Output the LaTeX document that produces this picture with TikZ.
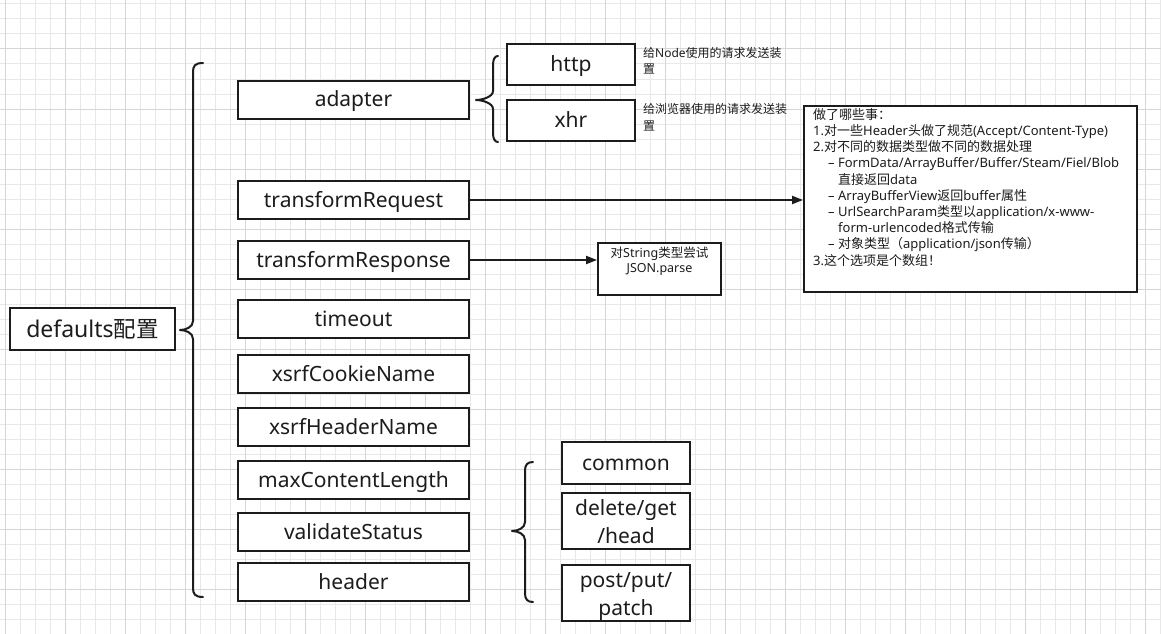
\documentclass[tikz,border=0pt]{standalone}
\usepackage{fontspec}
\setmainfont{Noto Sans}
\newfontfamily\cjk{Noto Sans CJK SC}
\usetikzlibrary{arrows.meta}

\definecolor{ink}{HTML}{1C1C1C}
\definecolor{gridminor}{HTML}{E8E8E8}
\definecolor{gridmajor}{HTML}{D6D6D6}

% two centred lines, the first raised above the second
\newcommand\twolines[3][28pt]{\makebox[0pt]{\raisebox{#1}[0pt][0pt]{#2}}\makebox[0pt]{#3}}
% two left-aligned lines, the first raised above the second
\newcommand\twolinesleft[3][16.5pt]{\makebox[0pt][l]{\raisebox{#1}[0pt][0pt]{#2}}#3}

% curly brace opening to the right: tip x, tip y, stem x, end x, top y, bottom y
\newcommand\drawbrace[6]{%
  \draw[bracepath] ({#4},{#5}) .. controls ({#3+2},{#5}) and ({#3},{#5+3}) .. ({#3},{#5+9})
    -- ({#3},{#2-9}) .. controls ({#3},{#2-3}) and ({#1+6},{#2}) .. ({#1},{#2})
    .. controls ({#1+6},{#2}) and ({#3},{#2+3}) .. ({#3},{#2+9})
    -- ({#3},{#6-9}) .. controls ({#3},{#6-3}) and ({#3+2},{#6}) .. ({#4},{#6});}

\begin{document}
\begin{tikzpicture}[x=1pt,y=-1pt,
  optbox/.style={draw=ink, line width=2pt, fill=white, text=ink, font=\fontsize{21}{28}\selectfont,
    inner sep=0pt, text height=18pt, text depth=4pt},
  twobox/.style={optbox, text height=48pt, text depth=4pt},
  notebox/.style={draw=ink, line width=2pt, fill=white, inner sep=0pt},
  smalltext/.style={text=ink, font=\fontsize{12}{16.5}\selectfont, inner sep=0pt},
  bracepath/.style={draw=ink, line width=2pt, line cap=round, line join=round},
  arr/.style={draw=ink, line width=2pt, -{Triangle[length=11pt,width=8pt]}}]
\useasboundingbox (0,0) rectangle (1161,634);
\fill[white] (0,0) rectangle (1161,634);

% background grid
\foreach \gx in {5,20,...,1160} \draw[gridminor, line width=1pt] (\gx,0) -- (\gx,634);
\foreach \gy in {4,19,...,634} \draw[gridminor, line width=1pt] (0,\gy) -- (1161,\gy);
\foreach \gx in {5,65,...,1160} \draw[gridmajor, line width=1pt] (\gx,0) -- (\gx,634);
\foreach \gy in {49,109,...,634} \draw[gridmajor, line width=1pt] (0,\gy) -- (1161,\gy);

% root
\node[optbox, minimum width=165pt, minimum height=42pt, font=\fontsize{23}{28}\selectfont,
  text height=20pt, text depth=3pt] (root) at (92.5,329) {defaults{\cjk\fontsize{22.5}{28}\selectfont 配置}};
\drawbrace{180}{330}{193}{203}{63}{597}

% option column
\foreach \nm/\cy/\txt in {adapter/99.5/adapter, treq/200/transformRequest, tresp/260/transformResponse,
    timeout/319/timeout, cookie/374/xsrfCookieName, hname/427/xsrfHeaderName,
    maxlen/480/maxContentLength, valid/532/validateStatus, header/582/header}
  \node[optbox, minimum width=231pt, minimum height=38pt] (\nm) at (353.5,\cy) {\txt};

% adapter choices
\drawbrace{476}{100}{493}{498}{56}{142}
\node[optbox, minimum width=128pt, minimum height=41pt] (http) at (571,64.5) {http};
\node[optbox, minimum width=128pt, minimum height=41pt] (xhr) at (571,120.5) {xhr};
\node[smalltext, anchor=base west] (httpnote) at (643,74)
  {\twolinesleft{{\cjk 给}Node{\cjk 使用的请求发送装}}{{\cjk 置}}};
\node[smalltext, anchor=base west] (xhrnote) at (643,130)
  {\twolinesleft{{\cjk 给浏览器使用的请求发送装}}{{\cjk 置}}};

% transformRequest details (node baseline = last line)
\node[notebox, minimum width=333pt, minimum height=186pt] (reqbox) at (970.5,199) {};
\node[anchor=base west, inner sep=0pt, text=ink, align=left,
  font=\fontsize{13}{16.2}\selectfont] (reqtext) at (813,265) {%
{\cjk 做了哪些事：}\\
1.{\cjk 对一些}Header{\cjk 头做了规范}(Accept/Content-Type)\\
2.{\cjk 对不同的数据类型做不同的数据处理}\\
\hspace*{15pt}– FormData/ArrayBuffer/Buffer/Steam/Fiel/Blob\\
\hspace*{25pt}{\cjk 直接返回}data\\
\hspace*{15pt}– ArrayBufferView{\cjk 返回}buffer{\cjk 属性}\\
\hspace*{15pt}– UrlSearchParam{\cjk 类型以}application/x-www-\\
\hspace*{25pt}form-urlencoded{\cjk 格式传输}\\
\hspace*{15pt}– {\cjk 对象类型（}application/json{\cjk 传输）}\\
3.{\cjk 这个选项是个数组！}};
\draw[arr] (treq.east) -- (treq.east -| reqbox.west);

% transformResponse details
\node[notebox, minimum width=123pt, minimum height=52pt, text=ink, text height=10.6pt, text depth=4pt,
  font=\fontsize{12.5}{16}\selectfont] (resbox) at (659.5,269)
  {\twolines[15pt]{{\cjk 对}String{\cjk 类型尝试}}{JSON.parse}};
\draw[arr] (tresp.east) -- (tresp.east -| resbox.west);

% header groups
\drawbrace{512}{531}{525}{533}{462}{602}
\node[optbox, minimum width=128pt, minimum height=42pt] (common) at (626,463) {common};
\node[twobox, minimum width=128pt, minimum height=56pt] (dgh) at (626,521) {\twolines{delete/get}{/head}};
\node[twobox, minimum width=128pt, minimum height=56pt] (ppp) at (626,593) {\twolines{post/put/}{patch}};
\end{tikzpicture}
\end{document}
